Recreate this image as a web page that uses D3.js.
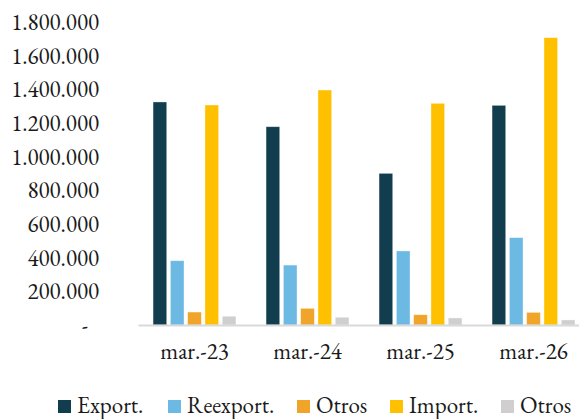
<!DOCTYPE html>
<html>
<head>
<meta charset="utf-8">
<script src="https://cdn.jsdelivr.net/npm/d3@7"></script>
<style>
  html, body { margin: 0; padding: 0; background: #fff; }
  svg { display: block; }
</style>
</head>
<body>
<svg id="chart" width="579" height="419"></svg>
<script>
const categories = ["mar.-23", "mar.-24", "mar.-25", "mar.-26"];
const seriesNames = ["Export.", "Reexport.", "Otros", "Import.", "Otros"];
const seriesColors = ["#113D4F", "#6CB9E3", "#F0A42A", "#FFC000", "#D0CECE"];
const exportVals   = [1325000, 1178000, 901000, 1305000];
const reexportVals = [382000, 356000, 440000, 519000];
const otros1Vals   = [77000, 99000, 61000, 75000];
const importVals   = [1307000, 1396000, 1317000, 1707000];
const otros2Vals   = [52000, 46000, 42000, 30000];
const yTicks = [0, 200000, 400000, 600000, 800000, 1000000, 1200000, 1400000, 1600000, 1800000];

const seriesVals = [exportVals, reexportVals, otros1Vals, importVals, otros2Vals];
const FONT = "EB Garamond";

const svg = d3.select("#chart");
const mLeft = 138, mRight = 590, mTop = 22, mBottom = 325;

const x = d3.scaleBand().domain(categories).range([mLeft, mRight]).paddingInner(0).paddingOuter(0);
const x1 = d3.scaleBand().domain(d3.range(5)).range([0, x.bandwidth()]).paddingInner(0.21).paddingOuter(0.87);
const y = d3.scaleLinear().domain([0, 1800000]).range([mBottom, mTop]);

const fmt = v => v === 0 ? "-" : d3.format(",")(v).replace(/,/g, ".");

// Y axis
const yAxis = svg.append("g").attr("transform", `translate(${mLeft - 39},0)`)
  .call(d3.axisLeft(y).tickValues(yTicks).tickFormat(fmt).tickSize(0).tickPadding(0));
yAxis.attr("font-family", FONT).attr("font-size", 23);
yAxis.select(".domain").remove();
yAxis.selectAll("text")
  .attr("fill", "#1a1a1a")
  .attr("dx", d => d === 0 ? -11 : 0);

// Bars
const groups = svg.append("g").selectAll("g")
  .data(categories).join("g")
  .attr("transform", d => `translate(${x(d)},0)`);

groups.selectAll("rect")
  .data((c, ci) => seriesVals.map((vals, si) => ({ si, v: vals[ci] })))
  .join("rect")
  .attr("x", d => x1(d.si))
  .attr("width", x1.bandwidth())
  .attr("y", d => y(d.v))
  .attr("height", d => y(0) - y(d.v))
  .attr("fill", d => seriesColors[d.si])
  .attr("stroke", "#ffffff")
  .attr("stroke-opacity", 0.5)
  .attr("stroke-width", 0.75);

// X axis line
const xAxis = svg.append("g").attr("transform", `translate(0,${mBottom})`)
  .call(d3.axisBottom(x).tickSize(0).tickPadding(18));
xAxis.attr("font-family", FONT).attr("font-size", 23);
xAxis.select(".domain").attr("stroke", "#D9D9D9").attr("stroke-width", 2);
xAxis.selectAll("text").attr("fill", "#1a1a1a");

// Legend
const legendX = [58, 168, 297, 390, 501];
const legend = svg.append("g").attr("font-family", FONT).attr("font-size", 23)
  .selectAll("g")
  .data(seriesNames).join("g")
  .attr("transform", (d, i) => `translate(${legendX[i]},400)`);
legend.append("rect").attr("width", 13).attr("height", 13)
  .attr("fill", (d, i) => seriesColors[i]);
legend.append("text").attr("x", 19).attr("y", 13)
  .attr("fill", "#1a1a1a")
  .text(d => d);
</script>
</body>
</html>
